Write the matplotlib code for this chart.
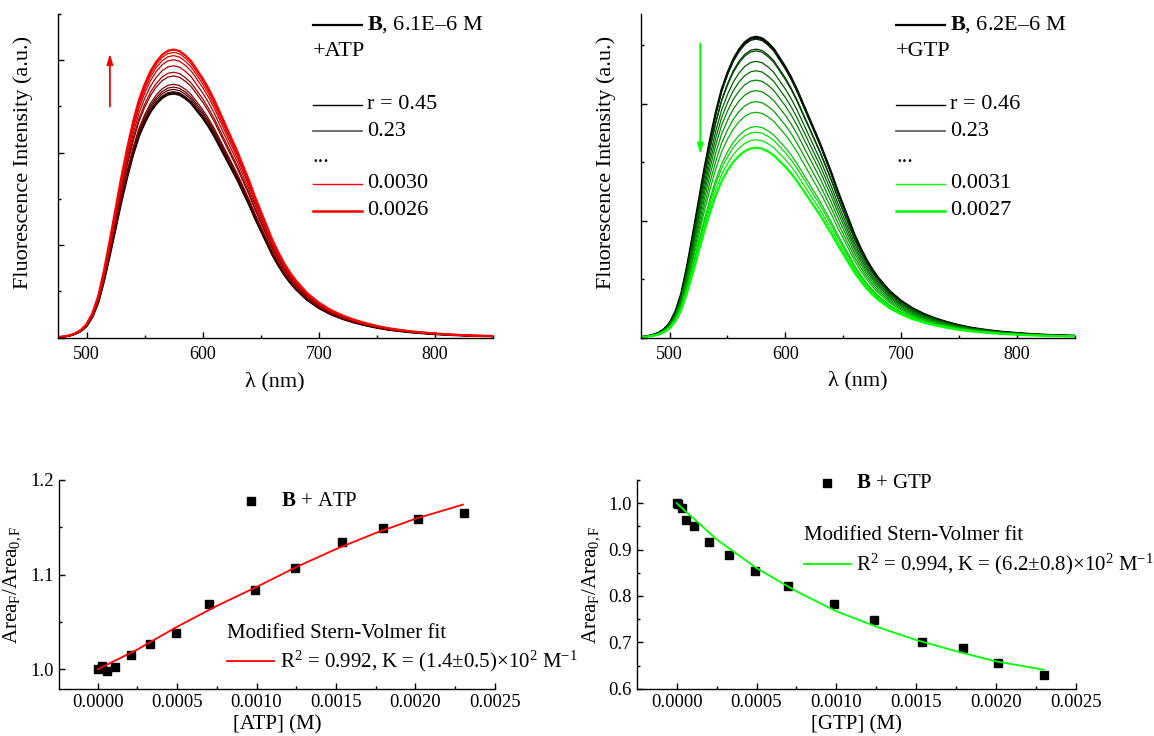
import matplotlib
matplotlib.use("Agg")
import matplotlib.pyplot as plt
from matplotlib.lines import Line2D
from matplotlib.ticker import MultipleLocator, FormatStrFormatter, NullFormatter
import numpy as np

plt.rcParams['font.family'] = ['Liberation Serif', 'DejaVu Serif']
plt.rcParams['mathtext.fontset'] = 'custom'
plt.rcParams['mathtext.rm'] = 'Liberation Serif'
plt.rcParams['mathtext.it'] = 'Liberation Serif:italic'
plt.rcParams['mathtext.bf'] = 'Liberation Serif:bold'

# emission spectrum shape (normalised)
wavelength = [475, 480, 485, 490, 495, 500, 505, 510, 515, 520, 525, 530, 535, 540,
              545, 550, 555, 560, 565, 570, 575, 580, 585, 590, 595, 600, 605, 610,
              615, 620, 625, 630, 635, 640, 645, 650, 655, 660, 665, 670, 675, 680,
              690, 700, 710, 720, 730, 740, 750, 760, 770, 780, 790, 800, 810, 820,
              830, 840, 850]
profile = [0.002, 0.004, 0.008, 0.015, 0.027, 0.048, 0.086, 0.145, 0.235, 0.34, 0.45,
           0.56, 0.66, 0.75, 0.825, 0.88, 0.925, 0.958, 0.982, 0.996, 1.0, 0.995,
           0.98, 0.96, 0.93, 0.90, 0.865, 0.825, 0.78, 0.735, 0.69, 0.645, 0.595,
           0.545, 0.49, 0.44, 0.39, 0.34, 0.298, 0.26, 0.228, 0.20, 0.155, 0.122,
           0.097, 0.078, 0.063, 0.051, 0.041, 0.033, 0.027, 0.022, 0.018, 0.015,
           0.012, 0.010, 0.008, 0.007, 0.006]

# peak heights of each spectrum (a.u.), first = B alone
atp_peaks = [264, 265, 264.5, 266, 268.5, 271, 274, 283, 287, 294, 300.5, 305, 308.5, 311.5]
gtp_peaks = [257, 255.9, 255, 246.5, 245, 236, 228, 220, 211, 201.6, 192.5, 180.3,
             175.5, 169, 162.2]

# titration data
atp_conc = [0.0, 0.000024, 0.000057, 0.00011, 0.00021, 0.000331, 0.00049, 0.000703,
            0.00099, 0.001245, 0.001539, 0.001795, 0.002017, 0.002308]
atp_ratio = [1.000, 1.0035, 0.998, 1.002, 1.0148, 1.027, 1.038, 1.069, 1.084, 1.107,
             1.1345, 1.149, 1.159, 1.165]
atp_fit_x = [0.0, 0.00025, 0.0005, 0.00075, 0.001, 0.00125, 0.0015, 0.00175, 0.002, 0.0023]
atp_fit_y = [1.0, 1.021, 1.045, 1.067, 1.087, 1.108, 1.127, 1.144, 1.159, 1.174]

gtp_conc = [0.0, 0.00001, 0.00003, 0.000055, 0.000106, 0.000205, 0.000327, 0.000488,
            0.0007, 0.000984, 0.001237, 0.001535, 0.001793, 0.002014, 0.002302]
gtp_ratio = [1.000, 0.998, 0.990, 0.963, 0.951, 0.917, 0.888, 0.854, 0.821, 0.783,
             0.749, 0.701, 0.687, 0.655, 0.630]
gtp_fit_x = [0.0, 0.00005, 0.0001, 0.00025, 0.0005, 0.00075, 0.001, 0.00125, 0.0015,
             0.00175, 0.002, 0.0023]
gtp_fit_y = [1.0, 0.984, 0.969, 0.922, 0.860, 0.810, 0.767, 0.734, 0.705, 0.681, 0.659, 0.641]

W, H = 1154, 736
fig = plt.figure(figsize=(W / 100, H / 100), dpi=100)


def rect(x0, x1, ytop, ybot):
    return [x0 / W, 1 - ybot / H, (x1 - x0) / W, (ybot - ytop) / H]


def fx(px):
    return px / W


def fy(py):
    return 1 - py / H


def style(ax, pad=6):
    for s in ['top', 'right']:
        ax.spines[s].set_visible(False)
    for s in ['left', 'bottom']:
        ax.spines[s].set_linewidth(1.0)
    ax.tick_params(which='both', direction='in', width=1.0)
    ax.tick_params(which='major', length=4.2, labelsize=13, pad=pad)
    ax.tick_params(which='minor', length=2.5)


def blend(c0, c1, t):
    return tuple(a + (b - a) * t for a, b in zip(c0, c1))


def legend_row(x0, y, text, color=None, lw=1.0, x1=None):
    if color is not None:
        fig.add_artist(Line2D([fx(x0), fx(x1)], [fy(y), fy(y)], transform=fig.transFigure,
                              color=color, lw=lw))
        fig.text(fx(x1 + 5), fy(y), text, va='center', ha='left', fontsize=16)
    else:
        fig.text(fx(x0), fy(y), text, va='center', ha='left', fontsize=16)


prof = np.array(profile)

# ---- spectra panels
panels = [
    (rect(57.7, 492.7, 14, 337.7), atp_peaks, (1, 0, 0), 350, 57.7,
     (520, 247, 310), "$\\mathbf{B}$, 6.1E–6 M", "+ATP", "r = 0.45", "0.0030", "0.0026"),
    (rect(640.7, 1074.6, 14, 337.5), gtp_peaks, (0, 1, 0), 276.5, 640.7,
     (526.5, 253.7, 154.5), "$\\mathbf{B}$, 6.2E–6 M", "+GTP", "r = 0.46", "0.0031", "0.0027"),
]
for r, peaks, col, ytop, x0px, arr, lab_b, lab_add, lab_r, lab_a, lab_b2 in panels:
    ax = fig.add_axes(r)
    n = len(peaks)
    for i, p in enumerate(peaks):
        c = blend((0, 0, 0), col, i / (n - 1))
        lw = 1.6 if i in (0, n - 1) else 0.9
        ax.plot(wavelength, prof * p, color=c, lw=lw)
    ax.set_xlim(475, 850)
    ax.set_ylim(0, ytop)
    ax.xaxis.set_major_locator(MultipleLocator(100))
    ax.xaxis.set_minor_locator(MultipleLocator(50))
    ax.yaxis.set_major_locator(MultipleLocator(100))
    ax.yaxis.set_minor_locator(MultipleLocator(50))
    ax.yaxis.set_major_formatter(NullFormatter())
    style(ax)
    ax.set_xlabel("λ (nm)", fontsize=16)
    ax.xaxis.set_label_coords(0.5, -0.105)
    ax.set_ylabel("Fluorescence Intensity (a.u.)", fontsize=16)
    ax.yaxis.set_label_coords(-0.057, 0.54)
    ax.annotate('', xy=(arr[0], arr[2]), xytext=(arr[0], arr[1]),
                arrowprops=dict(arrowstyle='-|>,head_width=0.18,head_length=0.6',
                                color=col, lw=1.3))
    off = x0px - 57.7
    lx0, lx1 = 313 + off, 362 + off
    legend_row(lx0, 25, lab_b, 'black', 1.6, lx1)
    legend_row(lx0, 51.5, lab_add)
    legend_row(lx0, 104.5, lab_r, 'black', 1.0, lx1)
    legend_row(lx0, 131, "0.23", '#555555', 1.2, lx1)
    legend_row(lx0, 157, "...")
    legend_row(lx0, 184, lab_a, col, 1.0, lx1)
    legend_row(lx0, 210.5, lab_b2, col, 1.8, lx1)

# ---- titration panels
ax = fig.add_axes(rect(59, 494.7, 480, 688.7))
ax.plot(atp_conc, atp_ratio, 's', color='black', ms=6)
ax.plot(atp_fit_x, atp_fit_y, color='red', lw=1.3)
ax.set_xlim(-0.000244, 0.0025)
ax.set_ylim(0.9795, 1.2)
ax.xaxis.set_major_locator(MultipleLocator(0.0005))
ax.xaxis.set_minor_locator(MultipleLocator(0.00025))
ax.xaxis.set_major_formatter(FormatStrFormatter('%.4f'))
ax.yaxis.set_major_locator(MultipleLocator(0.1))
ax.yaxis.set_minor_locator(MultipleLocator(0.05))
ax.yaxis.set_major_formatter(FormatStrFormatter('%.1f'))
style(ax, pad=4)
ax.tick_params(which='major', labelsize=13.5)
ax.set_xlabel("[ATP] (M)", fontsize=15)
ax.xaxis.set_label_coords(0.5, -0.125)
ax.set_ylabel("Area$_\\mathrm{F}$/Area$_\\mathrm{0,F}$", fontsize=15)
ax.yaxis.set_label_coords(-0.083, 0.5)

fig.add_artist(Line2D([fx(251)], [fy(501)], transform=fig.transFigure, marker='s',
                      color='black', ms=6, ls='none'))
fig.text(fx(281), fy(501), "$\\mathbf{B}$ + ATP", va='center', fontsize=15)
fig.text(fx(227), fy(633), "Modified Stern-Volmer fit", va='center', fontsize=15)
fig.add_artist(Line2D([fx(227), fx(274)], [fy(661), fy(661)], transform=fig.transFigure,
                      color='red', lw=1.3))
fig.text(fx(280), fy(661), "R$^2$ = 0.992, K = (1.4±0.5)×10$^2$ M$^{-1}$", va='center',
         fontsize=15)

ax = fig.add_axes(rect(637, 1075.6, 480, 688.7))
ax.plot(gtp_conc, gtp_ratio, 's', color='black', ms=6)
ax.plot(gtp_fit_x, gtp_fit_y, color=(0, 1, 0), lw=1.3)
ax.set_xlim(-0.000249, 0.0025)
ax.set_ylim(0.6, 1.05)
ax.xaxis.set_major_locator(MultipleLocator(0.0005))
ax.xaxis.set_minor_locator(MultipleLocator(0.00025))
ax.xaxis.set_major_formatter(FormatStrFormatter('%.4f'))
ax.yaxis.set_major_locator(MultipleLocator(0.1))
ax.yaxis.set_minor_locator(MultipleLocator(0.05))
ax.yaxis.set_major_formatter(FormatStrFormatter('%.1f'))
style(ax, pad=4)
ax.tick_params(which='major', labelsize=13.5)
ax.set_xlabel("[GTP] (M)", fontsize=15)
ax.xaxis.set_label_coords(0.5, -0.125)
ax.set_ylabel("Area$_\\mathrm{F}$/Area$_\\mathrm{0,F}$", fontsize=15)
ax.yaxis.set_label_coords(-0.08, 0.5)

fig.add_artist(Line2D([fx(827)], [fy(483)], transform=fig.transFigure, marker='s',
                      color='black', ms=6, ls='none'))
fig.text(fx(856), fy(483), "$\\mathbf{B}$ + GTP", va='center', fontsize=15)
fig.text(fx(803.5), fy(536), "Modified Stern-Volmer fit", va='center', fontsize=15)
fig.add_artist(Line2D([fx(803.5), fx(851)], [fy(564), fy(564)], transform=fig.transFigure,
                      color=(0, 1, 0), lw=1.3))
fig.text(fx(856.5), fy(564), "R$^2$ = 0.994, K = (6.2±0.8)×10$^2$ M$^{-1}$", va='center',
         fontsize=15)

fig.savefig("out.png", dpi=100)
